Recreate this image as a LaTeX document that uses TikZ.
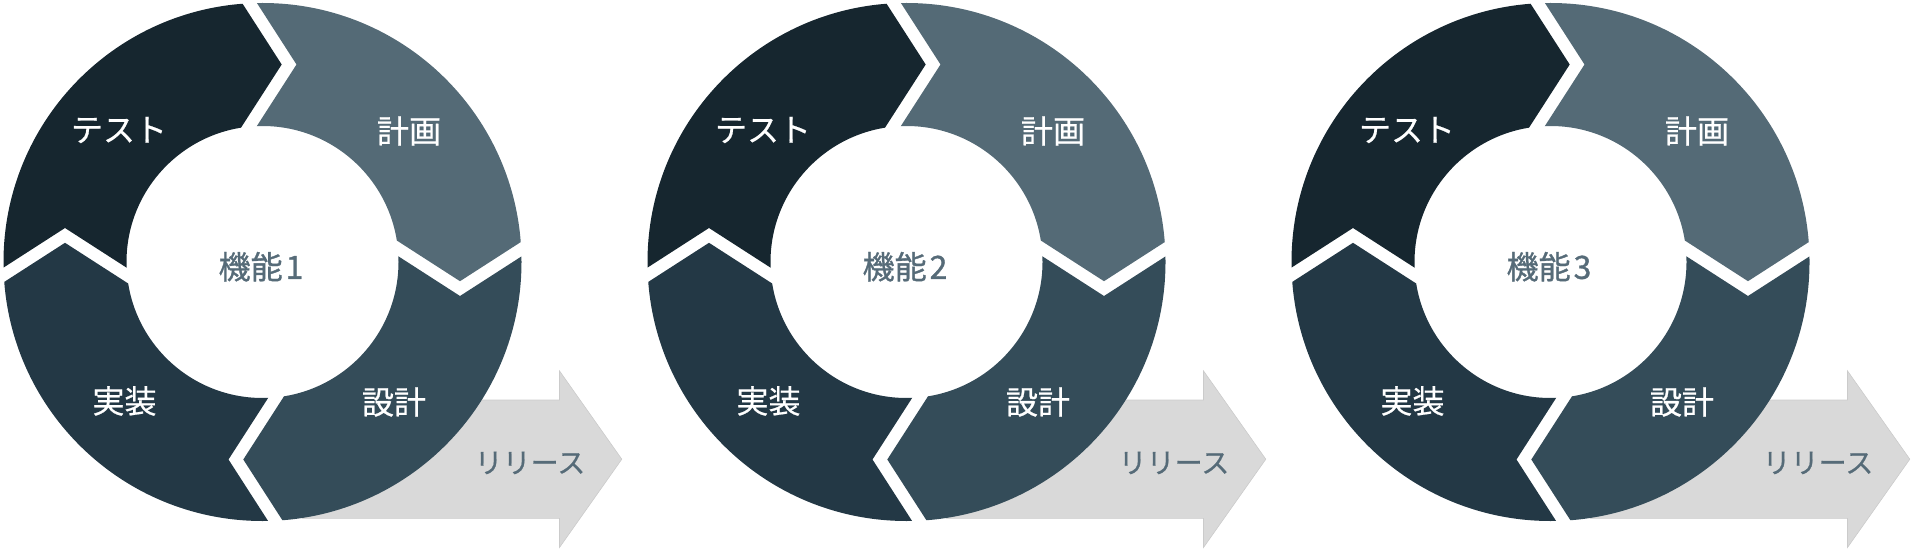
\documentclass[tikz,border=0pt]{standalone}
\usepackage{fontspec}
\setmainfont{Noto Sans CJK JP}
\newfontfamily\medjp{Noto Sans CJK JP}[FakeBold=0.6]
\newfontfamily\boldjp{Noto Sans CJK JP}[FakeBold=1.0]
\definecolor{cTest}{HTML}{16262F}
\definecolor{cPlan}{HTML}{546A76}
\definecolor{cDesign}{HTML}{344C59}
\definecolor{cImpl}{HTML}{233845}
\definecolor{cCenter}{HTML}{566B78}
\definecolor{cArrow}{HTML}{D9D9D9}
\definecolor{cArrowEdge}{HTML}{CBCBCB}
\begin{document}
\begin{tikzpicture}[x=1pt,y=1pt]
\tikzset{
  seglabel/.style={text=white, font=\medjp\fontsize{32}{32}\selectfont, inner sep=0pt},
  centerlabel/.style={text=cCenter, font=\boldjp\fontsize{32}{32}\selectfont, inner sep=0pt},
  releaselabel/.style={text=cCenter, font=\medjp\fontsize{28}{28}\selectfont, inner sep=0pt},
  releasearrow/.style={fill=cArrow, draw=cArrowEdge, line width=0.6pt},
}
\useasboundingbox (0,0) rectangle (1912,550);
\foreach \i/\num in {0/1,1/2,2/3}{
  \begin{scope}[shift={(262.5+644*\i,288)}]
    % release arrow (behind the ring)
    \coordinate (shaftstart\num) at (40,-197.2);
    \filldraw[releasearrow] (40,-138) -- (297,-138) -- (297,-108.9) -- (359.3,-197.2)
      -- (297,-285.5) -- (297,-256.4) -- (40,-256.4) -- cycle;
    % ring segments
    \begin{scope}[even odd rule]
      \clip (0,0) circle (259) (0,0) circle (136);
      \foreach \rot/\col in {0/cPlan,-90/cDesign,-180/cImpl,90/cTest}{
        \fill[\col, rotate=\rot] (-32,300) -- (34,197.5) -- (-28.8,100) -- (0,0)
          -- (100,43.6) -- (197.5,-19.2) -- (300,46.8) -- (300,300) -- cycle;
      }
    \end{scope}
    \node[seglabel] (test\num) at (-143.5,132) {テスト};
    \node[seglabel] (plan\num) at (146.5,131) {計画};
    \node[seglabel] (design\num) at (131.5,-140) {設計};
    \node[seglabel] (impl\num) at (-138,-139) {実装};
    \node[centerlabel] (feature\num) at (-1.5,-4.7) {機能\hspace{3pt}\num};
    \node[releaselabel] (release\num) at (267.5,-201) {リリース};
  \end{scope}
}
\end{tikzpicture}
\end{document}
